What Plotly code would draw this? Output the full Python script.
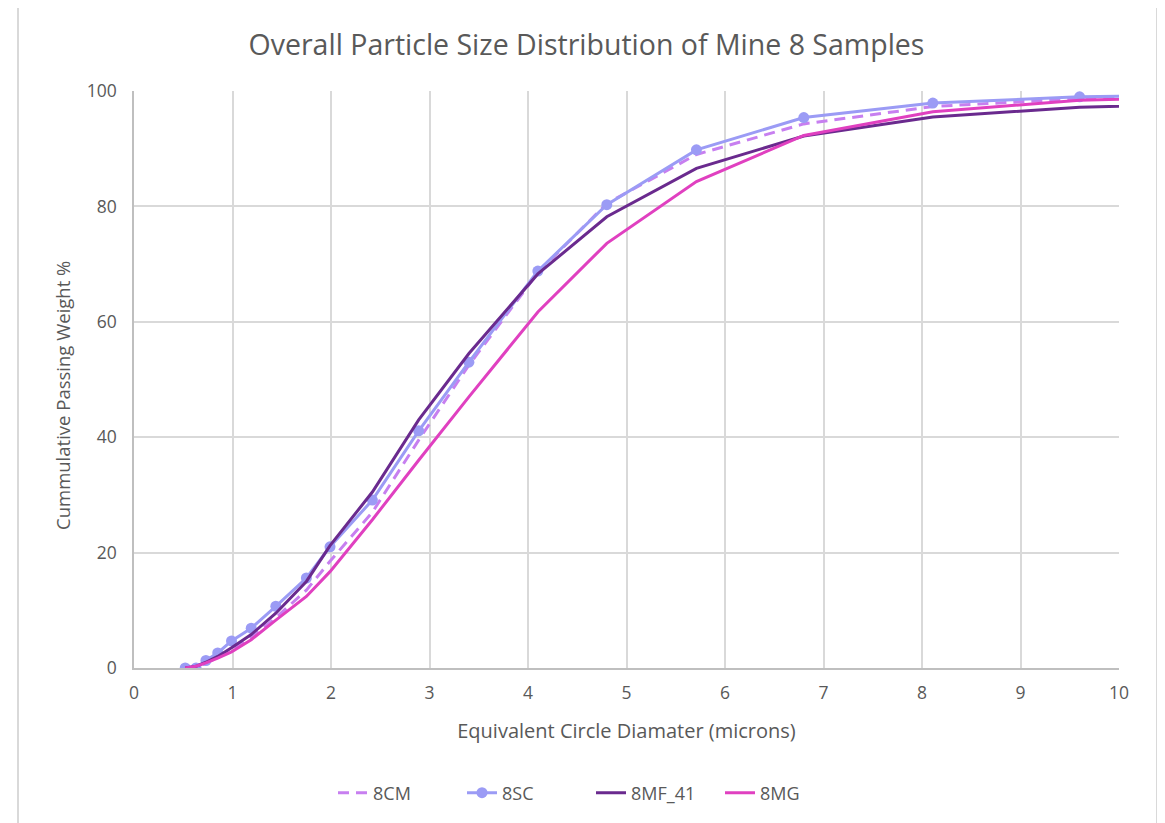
import plotly.graph_objects as go

# Equivalent circle diameter (microns) — shared x values
diameter = [0.52, 0.63, 0.73, 0.85, 0.99, 1.19, 1.44, 1.75, 1.99, 2.42, 2.89,
            3.40, 4.10, 4.80, 5.71, 6.80, 8.11, 9.60, 11.4]

cm_8 = [0.0, 0.2, 0.8, 1.8, 3.2, 5.3, 8.7, 13.5, 18.5, 27.0, 39.5,
        52.5, 68.5, 80.5, 89.0, 94.3, 97.3, 98.7, 99.2]
sc_8 = [0.0, 0.0, 1.3, 2.6, 4.7, 6.9, 10.7, 15.6, 21.0, 29.1, 41.1,
        53.0, 68.8, 80.3, 89.8, 95.4, 97.9, 99.0, 99.5]
mf41_8 = [0.0, 0.3, 1.0, 2.0, 3.5, 5.8, 9.5, 15.0, 21.2, 30.5, 43.0,
          54.5, 68.3, 78.2, 86.6, 92.2, 95.5, 97.2, 97.9]
mg_8 = [0.0, 0.3, 0.9, 1.7, 2.8, 4.9, 8.3, 12.4, 16.7, 25.7, 36.0,
        47.0, 61.7, 73.6, 84.3, 92.3, 96.4, 98.4, 99.2]

x_ticks = list(range(0, 11))
y_ticks = [0, 20, 40, 60, 80, 100]

FONT = "Open Sans"
TXT = "#595959"

fig = go.Figure()
fig.add_trace(go.Scatter(x=diameter, y=cm_8, name="8CM", mode="lines",
                         line=dict(color="#c77ff0", width=3, dash="11px,7px")))
fig.add_trace(go.Scatter(x=diameter, y=sc_8, name="8SC", mode="lines+markers",
                         line=dict(color="#9b9bf5", width=3),
                         marker=dict(color="#9b9bf5", size=11)))
fig.add_trace(go.Scatter(x=diameter, y=mf41_8, name="8MF_41", mode="lines",
                         line=dict(color="#6a2a8e", width=3)))
fig.add_trace(go.Scatter(x=diameter, y=mg_8, name="8MG", mode="lines",
                         line=dict(color="#e040c0", width=3)))

W, H = 1165, 823
OFF = 8  # page body margin
PX0, PX1, PY0, PY1 = 134, 1119, 91, 668   # plot area in screenshot pixels
L, T = PX0 - OFF, PY0 - OFF
R = W - L - (PX1 - PX0)
B = H - T - (PY1 - PY0)
pw, ph = PX1 - PX0, PY1 - PY0

def px(xs):
    return (xs - PX0) / pw

def py(ys):
    return (PY1 - ys) / ph

fig.update_layout(
    width=W, height=H,
    margin=dict(l=L, r=R, t=T, b=B),
    paper_bgcolor="white", plot_bgcolor="white",
    font=dict(family=FONT, color=TXT, size=14),
    title=dict(text="Overall Particle Size Distribution of Mine 8 Samples",
               x=px(586.5), xref="paper", xanchor="center",
               y=1 - (45 - OFF) / H, yanchor="middle",
               font=dict(size=28.5, color=TXT, family=FONT)),
    xaxis=dict(range=[0, 10], tickvals=x_ticks, showgrid=True,
               gridcolor="#d9d9d9", gridwidth=1.5, zeroline=False,
               showline=True, linecolor="#bfbfbf", linewidth=1.5,
               ticks="", ticklabelstandoff=8,
               tickfont=dict(size=17.5, color=TXT),
               title=dict(text="Equivalent Circle Diamater (microns)",
                          font=dict(size=20, color=TXT), standoff=21)),
    yaxis=dict(range=[0, 100], tickvals=y_ticks, showgrid=True,
               gridcolor="#d9d9d9", gridwidth=1.5, zeroline=False,
               showline=True, linecolor="#bfbfbf", linewidth=1.5,
               ticks="", ticklabelstandoff=12,
               tickfont=dict(size=17.5, color=TXT)),
    legend=dict(orientation="h", x=px(591), xanchor="center",
                y=py(793), yanchor="middle",
                font=dict(size=18, color=TXT), entrywidth=84,
                bgcolor="rgba(0,0,0,0)"),
    showlegend=True,
)

# y-axis title (Excel places it slightly below the plot centre)
fig.add_annotation(text="Cummulative Passing Weight %", xref="paper", yref="paper",
                   x=px(62), y=py(396), textangle=-90, showarrow=False,
                   xanchor="center", yanchor="middle",
                   font=dict(size=18.5, color=TXT, family=FONT))

# light chart-area frame
fig.add_shape(type="rect", xref="paper", yref="paper",
              x0=px(18), x1=px(1157), y0=py(840), y1=py(5),
              line=dict(color="#d9d9d9", width=2), layer="below")

fig.write_html("out.html")
